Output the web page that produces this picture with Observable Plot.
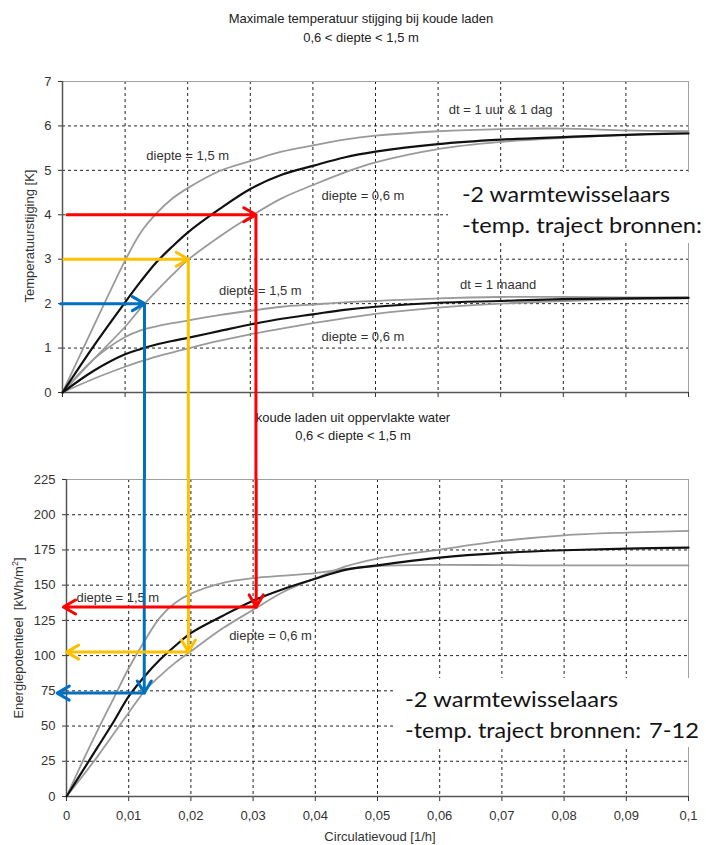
<!DOCTYPE html>
<html>
<head>
<meta charset="utf-8">
<script src="https://cdn.jsdelivr.net/npm/d3@7"></script>
<script src="https://cdn.jsdelivr.net/npm/@observablehq/plot@0.6"></script>
<style>
  body { margin: 0; background: #fff; }
  #wrap { position: relative; width: 706px; height: 845px; overflow: hidden; background: #fff;
          font-family: "Liberation Sans", Arial, sans-serif; color: #333; }
  .title { position: absolute; transform: translateX(-50%); text-align: center; font-size: 13px;
           line-height: 19px; white-space: nowrap; color: #222; }
  .axis-title { position: absolute; font-size: 13px; white-space: nowrap; color: #333; }
  .plot { position: absolute; left: 0; }
  .note { position: absolute; z-index: 2; overflow: hidden; }
  .note text { font-family: Lato, "Open Sans", sans-serif; font-size: 22px; fill: #141414; }
</style>
</head>
<body>
<div id="wrap">
  <div class="title" style="left:361px; top:9px;">Maximale temperatuur stijging bij koude laden<br>0,6 &lt; diepte &lt; 1,5 m</div>
  <div class="title" style="left:353px; top:409px; line-height:18px;">koude laden uit oppervlakte water<br>0,6 &lt; diepte &lt; 1,5 m</div>
  <div class="axis-title" style="left:29px; top:236px; transform:translate(-50%,-50%) rotate(-90deg);">Temperatuurstijging [K]</div>
  <div class="axis-title" style="left:18px; top:638px; transform:translate(-50%,-50%) rotate(-90deg);">Energiepotentieel&nbsp; [kWh/m<sup style="font-size:9px;">2</sup>]</div>
  <div class="axis-title" style="left:380px; top:836px; transform:translate(-50%,-50%);">Circulatievoud [1/h]</div>
  <div id="top" class="plot" style="top:0;"></div>
  <div id="bottom" class="plot" style="top:400px;"></div>
  <svg class="note" style="left:448px; top:172px;" width="258" height="71">
    <rect width="258" height="71" fill="#fff"></rect>
    <text x="14" y="29.7" textLength="208" lengthAdjust="spacingAndGlyphs">-2 warmtewisselaars</text>
    <text x="14" y="61" textLength="240" lengthAdjust="spacingAndGlyphs">-temp. traject bronnen:</text>
  </svg>
  <svg class="note" style="left:393px; top:678px;" width="313" height="69">
    <rect width="313" height="69" fill="#fff"></rect>
    <text x="12" y="29.3" textLength="213" lengthAdjust="spacingAndGlyphs">-2 warmtewisselaars</text>
    <text x="12" y="60.3" textLength="236" lengthAdjust="spacingAndGlyphs">-temp. traject bronnen:</text>
    <text x="256" y="60.3" textLength="50" lengthAdjust="spacingAndGlyphs">7-12</text>
  </svg>
</div>
<script>
// Axis ticks
const xTicks = [0, 0.01, 0.02, 0.03, 0.04, 0.05, 0.06, 0.07, 0.08, 0.09, 0.1];
const tempTicks = [0, 1, 2, 3, 4, 5, 6, 7];
const energyTicks = [0, 25, 50, 75, 100, 125, 150, 175, 200, 225];

// Maximum temperature rise [K] versus circulation rate [1/h]
const xTemp = [0, 0.005, 0.01, 0.0125, 0.015, 0.0175, 0.02, 0.025, 0.03, 0.035, 0.04, 0.045, 0.05, 0.06, 0.07, 0.08, 0.09, 0.1];
const tempDayDeep      = [0, 1.5, 2.97, 3.6, 4.03, 4.36, 4.6, 4.98, 5.21, 5.42, 5.56, 5.69, 5.78, 5.88, 5.93, 5.94, 5.9, 5.88];
const tempDayMean      = [0, 1.05, 2.03, 2.5, 2.93, 3.28, 3.6, 4.12, 4.58, 4.9, 5.1, 5.29, 5.42, 5.59, 5.69, 5.75, 5.8, 5.83];
const tempDayShallow   = [0, 0.75, 1.48, 1.9, 2.28, 2.64, 2.98, 3.5, 3.96, 4.37, 4.67, 4.95, 5.18, 5.48, 5.64, 5.73, 5.8, 5.85];
const tempMonthDeep    = [0, 0.75, 1.25, 1.4, 1.49, 1.56, 1.62, 1.74, 1.84, 1.93, 1.98, 2.03, 2.06, 2.12, 2.15, 2.15, 2.14, 2.14];
const tempMonthMean    = [0, 0.49, 0.86, 0.98, 1.08, 1.16, 1.23, 1.38, 1.53, 1.66, 1.76, 1.86, 1.93, 2.02, 2.06, 2.1, 2.12, 2.13];
const tempMonthShallow = [0, 0.31, 0.58, 0.7, 0.81, 0.9, 0.99, 1.16, 1.31, 1.44, 1.56, 1.67, 1.77, 1.91, 2.0, 2.06, 2.1, 2.12];

// Energy potential [kWh/m2] versus circulation rate [1/h]
const xEnergy = [0, 0.0025, 0.005, 0.0075, 0.01, 0.0125, 0.015, 0.0175, 0.02, 0.025, 0.03, 0.035, 0.04, 0.045, 0.05, 0.06, 0.07, 0.08, 0.09, 0.1];
const energyDeep    = [0, 24, 47, 69, 91, 110, 127, 137.5, 144, 151.5, 155, 156.8, 158.6, 161.5, 163.6, 164.4, 164.2, 164, 164, 164];
const energyMean    = [0, 17.5, 35, 52.5, 71, 85, 97, 107, 116, 128, 139, 147.5, 154.6, 161, 164.1, 169.6, 172.9, 174.8, 176, 176.7];
const energyShallow = [0, 14, 28.5, 44, 59.5, 74.5, 85.5, 95, 103, 119, 132.5, 145.5, 154.8, 163.5, 168.9, 175.3, 181.4, 185.4, 187.3, 188.5];

// Curve annotations
const tempLabels = ["diepte = 1,5 m", "diepte = 0,6 m", "dt = 1 uur & 1 dag", "diepte = 1,5 m", "diepte = 0,6 m", "dt = 1 maand"];
const tempLabelX = [0.02, 0.048, 0.07, 0.0316, 0.048, 0.0696];
const tempLabelY = [5.33, 4.43, 6.36, 2.29, 1.25, 2.42];
const energyLabels = ["diepte = 1,5 m", "diepte = 0,6 m"];
const energyLabelX = [0.00825, 0.0328];
const energyLabelY = [140.7, 113.9];

// Read-off paths: temperature rise -> circulation rate -> energy potential
const arrowColor = ["#0070c0", "#ffc000", "#ff0000"];
const arrowTemp = [2, 3, 4];
const arrowTempFrom = [-0.0003, 0.0002, 0.0007];
const arrowTempAt = [0.0131, 0.0201, 0.0309];
const arrowEnergyAt = [0.0125, 0.0196, 0.0305];
const arrowEnergy = [73.4, 102.5, 134.5];
const arrowEnergyTo = [-0.0015, 0.0, -0.0005];

const grey = "#9a9a9a";
const black = "#111";
const series = (xs, ys, key) => xs.map((x, i) => ({x, y: ys[i], key}));
const decimal = d => d === 0 ? "0" : String(d).replace(".", ",");
const idx = arrowColor.map((_, i) => i);

const tempGrey = [
  ...series(xTemp, tempDayDeep, "d1"), ...series(xTemp, tempDayShallow, "d2"),
  ...series(xTemp, tempMonthDeep, "m1"), ...series(xTemp, tempMonthShallow, "m2")
];
const tempBlack = [...series(xTemp, tempDayMean, "d"), ...series(xTemp, tempMonthMean, "m")];
const energyGrey = [...series(xEnergy, energyDeep, "a"), ...series(xEnergy, energyShallow, "b")];
const energyBlack = series(xEnergy, energyMean, "c");

const common = {
  width: 706,
  marginRight: 18,
  color: {type: "identity"},
  style: {background: "transparent", overflow: "visible", fontFamily: "'Liberation Sans', Arial, sans-serif", fontSize: "13px", color: "#333"}
};
const gridStyle = {stroke: "#222", strokeOpacity: 1, strokeWidth: 1, strokeDasharray: "3,3"};
const textStyle = {fontSize: 13, fill: "#333", textAnchor: "middle"};
const arrowStyle = {strokeWidth: 3, headLength: 7};

const topPlot = Plot.plot({
  ...common,
  height: 400,
  marginLeft: 62,
  marginTop: 81,
  marginBottom: 8,
  x: {domain: [0, 0.1]},
  y: {domain: [0, 7]},
  marks: [
    Plot.gridX(xTicks.slice(1, -1), gridStyle),
    Plot.gridY(tempTicks.slice(1, -1), gridStyle),
    Plot.frame({stroke: "#a0a0a0"}),
    Plot.axisY({ticks: tempTicks, tickSize: 4, tickPadding: 7, fontSize: 13, tickFormat: d => String(d), label: null}),
    Plot.axisX({ticks: xTicks, tickSize: 5, tickFormat: () => "", label: null}),
    Plot.ruleX([0], {stroke: "#555", strokeWidth: 1.5}),
    Plot.ruleY([0], {stroke: "#555", strokeWidth: 1.5}),
    Plot.line(tempGrey, {x: "x", y: "y", z: "key", stroke: grey, strokeWidth: 1.8, curve: "catmull-rom"}),
    Plot.line(tempBlack, {x: "x", y: "y", z: "key", stroke: black, strokeWidth: 2.2, curve: "catmull-rom"}),
    Plot.text(tempLabels, {x: (d, i) => tempLabelX[i], y: (d, i) => tempLabelY[i], text: d => d, ...textStyle}),
    Plot.ruleX(idx, {x: i => arrowTempAt[i], y1: i => arrowTemp[i], y2: () => 0, stroke: i => arrowColor[i], strokeWidth: 3, insetBottom: -87}),
    Plot.arrow(idx, {x1: i => arrowTempFrom[i], x2: i => arrowTempAt[i], y1: i => arrowTemp[i], y2: i => arrowTemp[i],
      stroke: i => arrowColor[i], ...arrowStyle})
  ]
});

const bottomPlot = Plot.plot({
  ...common,
  height: 445,
  marginLeft: 66,
  marginTop: 79,
  marginBottom: 49,
  x: {domain: [0, 0.1]},
  y: {domain: [0, 225]},
  marks: [
    Plot.gridX(xTicks.slice(1, -1), gridStyle),
    Plot.gridY(energyTicks.slice(1, -1), gridStyle),
    Plot.frame({stroke: "#a0a0a0"}),
    Plot.axisY({ticks: energyTicks, tickSize: 4, tickPadding: 7, fontSize: 13, tickFormat: d => String(d), label: null}),
    Plot.axisX({ticks: xTicks, tickSize: 5, tickPadding: 9, fontSize: 13, tickFormat: decimal, label: null}),
    Plot.ruleX([0], {stroke: "#555", strokeWidth: 1.5}),
    Plot.ruleY([0], {stroke: "#555", strokeWidth: 1.5}),
    Plot.line(energyGrey, {x: "x", y: "y", z: "key", stroke: grey, strokeWidth: 1.8, curve: "catmull-rom"}),
    Plot.line(energyBlack, {x: "x", y: "y", z: "key", stroke: black, strokeWidth: 2.2, curve: "catmull-rom"}),
    Plot.text(energyLabels, {x: (d, i) => energyLabelX[i], y: (d, i) => energyLabelY[i], text: d => d, ...textStyle}),
    Plot.arrow(idx, {x1: i => arrowEnergyAt[i], x2: i => arrowEnergyAt[i], y1: () => energyTicks[energyTicks.length - 1], y2: i => arrowEnergy[i],
      stroke: i => arrowColor[i], ...arrowStyle}),
    Plot.arrow(idx, {x1: i => arrowEnergyAt[i], x2: i => arrowEnergyTo[i], y1: i => arrowEnergy[i], y2: i => arrowEnergy[i],
      stroke: i => arrowColor[i], ...arrowStyle})
  ]
});

document.getElementById("top").append(topPlot);
document.getElementById("bottom").append(bottomPlot);
</script>
</body>
</html>
